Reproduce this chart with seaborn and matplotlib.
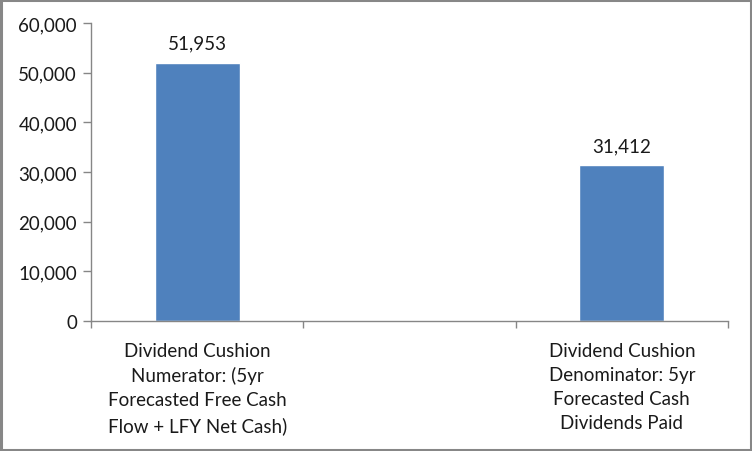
import matplotlib
matplotlib.use("Agg")
import matplotlib.pyplot as plt
import seaborn as sns
import pandas as pd
from matplotlib.patches import Rectangle
from matplotlib.ticker import FuncFormatter

categories = ["Dividend Cushion\nNumerator: (5yr\nForecasted Free Cash\nFlow + LFY Net Cash)",
              "",
              "Dividend Cushion\nDenominator: 5yr\nForecasted Cash\nDividends Paid"]
value_categories = [categories[0], categories[2]]
values = [51953, 31412]
yticks = [0, 10000, 20000, 30000, 40000, 50000, 60000]

sns.set_theme(style="white")
plt.rcParams['font.family'] = ['Lato', 'DejaVu Sans']

fig = plt.figure(figsize=(7.52, 4.52), dpi=100)
ax = fig.add_axes([91/752, 1-322/452, (728-91)/752, (322-24)/452])

df = pd.DataFrame({"cat": value_categories, "val": values})
sns.barplot(data=df, x="cat", y="val", order=categories, color="#4F81BD",
            width=0.4, saturation=1, ax=ax, errorbar=None)

for c in ax.containers:
    ax.bar_label(c, labels=[f"{v:,.0f}" for v in values], padding=8, fontsize=13.5, color="#1a1a1a")

ax.set_xlim(-0.5, 2.5)
ax.set_ylim(0, 60000)
ax.set_yticks(yticks)
ax.yaxis.set_major_formatter(FuncFormatter(lambda v, p: f"{v:,.0f}"))
ax.set_xlabel("")
ax.set_ylabel("")

ax.set_xticks([-0.5, 0.5, 1.5, 2.5])
ax.set_xticklabels([])
ax.set_xticks([0, 1, 2], minor=True)
ax.set_xticklabels(categories, minor=True, fontsize=13.5, color="#1a1a1a", linespacing=1.5)
ax.tick_params(axis="x", which="major", length=5, width=1, color="#868686", direction="out", bottom=True)
ax.tick_params(axis="x", which="minor", length=0, pad=15, bottom=True)
ax.tick_params(axis="y", length=6, width=1, color="#868686", direction="out", left=True,
               labelsize=13.5, labelcolor="#1a1a1a", pad=4)
for lab in ax.get_xticklabels(minor=True):
    lab.set_verticalalignment("top")

for s in ["top", "right"]:
    ax.spines[s].set_visible(False)
for s in ["left", "bottom"]:
    ax.spines[s].set_color("#868686")
    ax.spines[s].set_linewidth(1)

fig.patches.append(Rectangle((0.0015, 0.0025), 0.997, 0.995, transform=fig.transFigure,
                             fill=False, edgecolor="#878787", linewidth=2.2))

fig.savefig("out.png", dpi=100)
